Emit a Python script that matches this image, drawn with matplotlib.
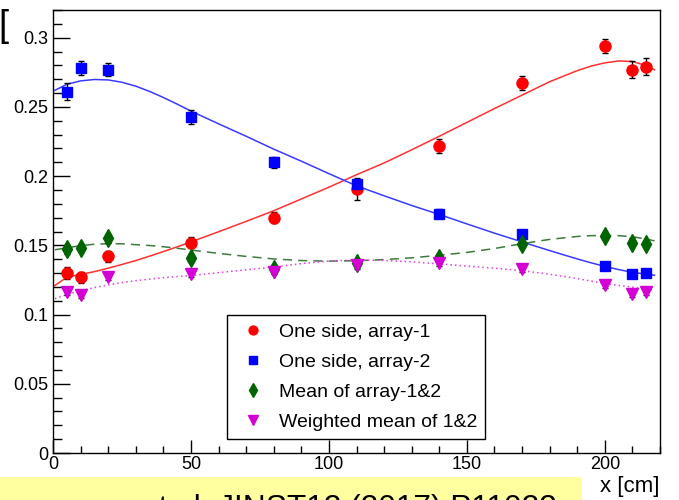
import numpy as np
import matplotlib.pyplot as plt
from matplotlib.lines import Line2D
from matplotlib.patches import Rectangle
from matplotlib.ticker import MultipleLocator

plt.rcParams['font.family'] = ['Liberation Sans', 'DejaVu Sans']

# 測定位置 [cm]
pos = [5, 10, 20, 50, 80, 110, 140, 170, 200, 210, 215]

# 片側読み出し (array-1, array-2)
side1 = [0.130, 0.127, 0.142, 0.152, 0.170, 0.191, 0.222, 0.267, 0.294, 0.277, 0.279]
side1_err = [0.004, 0.004, 0.004, 0.004, 0.004, 0.008, 0.005, 0.005, 0.005, 0.006, 0.006]
side2 = [0.261, 0.278, 0.277, 0.243, 0.210, 0.194, 0.173, 0.158, 0.135, 0.129, 0.130]
side2_err = [0.006, 0.005, 0.005, 0.005, 0.004, 0.004, 0.003, 0.003, 0.002, 0.002, 0.002]

# 両側の平均と重み付き平均
mean12 = [0.147, 0.148, 0.155, 0.141, 0.133, 0.137, 0.141, 0.151, 0.157, 0.152, 0.151]
mean12_err = [0.003, 0.003, 0.003, 0.003, 0.003, 0.003, 0.003, 0.003, 0.003, 0.003, 0.003]
wmean12 = [0.116, 0.114, 0.127, 0.129, 0.131, 0.136, 0.137, 0.133, 0.121, 0.115, 0.116]
wmean12_err = [0.002, 0.002, 0.002, 0.002, 0.002, 0.003, 0.002, 0.002, 0.002, 0.002, 0.002]

# フィット関数の値
fit_x = [0.7, 5, 10, 15, 20, 25, 30, 35, 40, 45, 50, 60, 70, 80, 90, 100, 110, 120,
         130, 140, 150, 160, 170, 180, 190, 195, 200, 205, 210, 215, 218]
fit_side1 = [0.121, 0.127, 0.129, 0.131, 0.1335, 0.1362, 0.139, 0.1422, 0.1455, 0.1489, 0.1525,
             0.1598, 0.1673, 0.175, 0.1835, 0.192, 0.201, 0.2095, 0.219, 0.2288, 0.2388,
             0.2488, 0.2585, 0.2682, 0.2762, 0.2795, 0.2818, 0.2832, 0.2828, 0.2798, 0.2768]
fit_side2 = [0.262, 0.2663, 0.2688, 0.2698, 0.2695, 0.2678, 0.2650, 0.2612, 0.2568, 0.2520, 0.2470,
             0.2378, 0.2288, 0.2195, 0.2108, 0.2018, 0.193, 0.1858, 0.1788, 0.1723, 0.1655,
             0.1588, 0.1525, 0.1462, 0.1402, 0.1374, 0.1348, 0.1325, 0.1305, 0.1292, 0.1284]
fit_mean12 = [0.1468, 0.1482, 0.1498, 0.1508, 0.1512, 0.1511, 0.1505, 0.1499, 0.149, 0.1479,
              0.1466, 0.1442, 0.142, 0.1402, 0.139, 0.1386, 0.1389, 0.1397, 0.141, 0.1428,
              0.1449, 0.1477, 0.1512, 0.1543, 0.1564, 0.157, 0.1572, 0.157, 0.1562, 0.1546,
              0.1532]
fit_wmean12 = [0.1115, 0.1145, 0.1172, 0.1195, 0.1214, 0.1231, 0.1245, 0.1256, 0.1266, 0.1274,
               0.1282, 0.1303, 0.1323, 0.1343, 0.1368, 0.1386, 0.1394, 0.1391, 0.1381, 0.1366,
               0.135, 0.1335, 0.1317, 0.1291, 0.126, 0.1242, 0.1224, 0.1211, 0.1198, 0.1183,
               0.1175]

labels = ['One side, array-1', 'One side, array-2',
          'Mean of array-1&2', 'Weighted mean of 1&2']

fig = plt.figure(figsize=(6.79, 5.00), dpi=100)
ax = fig.add_axes([53/679, 47/500, 607/679, 443/500])

series = [
    (side1, side1_err, fit_side1, 'o', '#ff0000', 8, '#ff3030', '-'),
    (side2, side2_err, fit_side2, 's', '#0000ff', 7.5, '#3a3aff', '-'),
    (mean12, mean12_err, fit_mean12, 'd', '#006400', 9, '#3d7a3d', (0, (6, 4))),
    (wmean12, wmean12_err, fit_wmean12, 'v', '#d400d4', 9, '#e040e0', (0, (1, 2))),
]

handles = []
for y, e, f, mk, col, ms, lcol, ls in series:
    ax.plot(fit_x, f, color=lcol, lw=1.1, ls=ls, zorder=2)
    ax.errorbar(pos, y, yerr=e, fmt='none', ecolor='black', elinewidth=1,
                capsize=2.5, capthick=1, zorder=3)
    ax.plot(pos, y, ls='none', marker=mk, color=col, ms=ms, mec=col, zorder=4)
    handles.append(Line2D([], [], ls='none', marker=mk, color=col, ms=ms*0.8))

ax.set_xlim(0, 220)
ax.set_ylim(0, 0.32)
ax.xaxis.set_major_locator(MultipleLocator(50))
ax.xaxis.set_minor_locator(MultipleLocator(10))
ax.yaxis.set_major_locator(MultipleLocator(0.05))
ax.yaxis.set_minor_locator(MultipleLocator(0.01))
ax.yaxis.set_major_formatter(plt.FuncFormatter(lambda v, p: f'{v:g}'))
ax.tick_params(axis='both', which='both', direction='in', top=False, right=False,
               labelsize=13, width=1, color='black')
ax.tick_params(axis='x', which='major', length=9.5, pad=2.5)
ax.tick_params(axis='x', which='minor', length=5)
ax.tick_params(axis='y', which='major', length=12.5, pad=3.5)
ax.tick_params(axis='y', which='minor', length=6.5)
for s in ax.spines.values():
    s.set_linewidth(1)

leg = ax.legend(handles, labels, loc='upper left', bbox_to_anchor=(0.2867, 0.3115),
                borderaxespad=0, fontsize=14, frameon=True, fancybox=False,
                framealpha=1, edgecolor='black', borderpad=0.41, labelspacing=0.64,
                handlelength=1.85, handletextpad=0.41)
leg.get_frame().set_linewidth(1)

fig.text(660/679, 1 - 476/500, 'x [cm]', fontsize=16, ha='right', va='top')

# 文献表示の帯
fig.patches.append(Rectangle((0, 0), 582/679, 23/500, transform=fig.transFigure,
                             facecolor='#ffffa0', edgecolor='none', zorder=0))
fig.text(557/679, -0.034, 'et al. JINST12 (2017) P11023', fontsize=22.8,
         ha='right', va='baseline', zorder=1)

fig.text(-0.002, 1 - 27/500, '[', fontsize=26, ha='left', va='center')

fig.savefig('out.png', dpi=100)
